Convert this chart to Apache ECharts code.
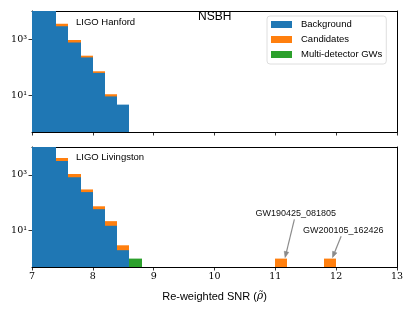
<!DOCTYPE html>
<html><head><meta charset="utf-8">
<script src="https://cdn.jsdelivr.net/npm/echarts@6/dist/echarts.min.js"></script>
<style>html,body{margin:0;padding:0;background:#fff}#c{width:415px;height:311px}</style>
</head><body><div id="c"></div>
<script>
// ---- data ----
const binWidth = 0.2;
const xTicks = [7, 8, 9, 10, 11, 12, 13];
const yTickValues = [10, 1000];

const hanfordBins = [7.0, 7.2, 7.4, 7.6, 7.8, 8.0, 8.2, 8.4];
const hanfordBackground = [30000, 14000, 2890, 757, 224, 63, 9.2, 4.7];
const hanfordCandidates = [31000, 14500, 3490, 923, 258, 72, 11, 0];

const livingstonBins = [7.0, 7.2, 7.4, 7.6, 7.8, 8.0, 8.2, 8.4];
const livingstonBackground = [40000, 16000, 3130, 822, 242, 59, 15, 2.0];
const livingstonCandBins = [7.0, 7.2, 7.4, 7.6, 7.8, 8.0, 8.2, 8.4, 11.0, 11.8];
const livingstonCandidates = [41000, 16500, 4010, 1085, 301, 75, 22, 3, 1, 1];
const multiBins = [8.6];
const multiDetector = [1];

const eventNames = ['GW190425_081805', 'GW200105_162426'];
const eventSnr = [11.16, 11.94];
const eventCount = [1, 1];

// ---- helpers ----
const BLUE = '#1f77b4', ORANGE = '#ff7f0e', GREEN = '#2ca02c';
const SANS = 'Liberation Sans';
const SERIF = 'DejaVu Serif';
const sup = {'0':'⁰','1':'¹','2':'²','3':'³','4':'⁴','5':'⁵','6':'⁶','7':'⁷','8':'⁸','9':'⁹','-':'⁻'};

function hist(starts, vals) {
  return starts.map((s, i) => [s, +(s + binWidth).toFixed(2), vals[i]]).filter(d => d[2] > 0);
}
function renderBar(params, api) {
  const x0 = api.value(0), x1 = api.value(1), v = api.value(2);
  const p0 = api.coord([x0, v]);
  const p1 = api.coord([x1, v]);
  const cs = params.coordSys;
  const bottom = cs.y + cs.height;
  const top = Math.max(p0[1], cs.y);
  const l = Math.round(p0[0]), r = Math.round(p1[0]);
  return {
    type: 'rect',
    shape: { x: l, y: top, width: r - l, height: bottom - top },
    style: { fill: api.visual('color'), stroke: null, lineWidth: 0 }
  };
}
function histSeries(name, color, gridIdx, data, z) {
  return {
    type: 'custom', name, xAxisIndex: gridIdx, yAxisIndex: gridIdx,
    data, encode: { x: [0, 1], y: 2 }, renderItem: renderBar,
    itemStyle: { color }, z, silent: true
  };
}

// annotation layout (label centre in data coords)
const annotLayout = [{ x: 11.335, y: 40 }, { x: 12.118, y: 10 }];
function renderAnnot(params, api) {
  const i = params.dataIndex;
  const tip0 = api.coord([api.value(0), api.value(1)]);
  const txt = api.coord([annotLayout[i].x, annotLayout[i].y]);
  const tip = [tip0[0], tip0[1] - 1];
  const dx = tip[0] - txt[0], dy = tip[1] - txt[1];
  const t = 5.5 / dy;
  const start = [txt[0] + dx * t, txt[1] + 5.5];
  const L = Math.hypot(tip[0] - start[0], tip[1] - start[1]);
  const ux = (tip[0] - start[0]) / L, uy = (tip[1] - start[1]) / L;
  const hl = 6, hw = 2.3;
  const base = [tip[0] - ux * hl, tip[1] - uy * hl];
  const px = -uy, py = ux;
  return {
    type: 'group',
    children: [
      { type: 'text', x: txt[0], y: txt[1],
        style: { text: eventNames[i], align: 'center', verticalAlign: 'middle',
                 fontSize: 9, fontFamily: SANS, fill: '#111' } },
      { type: 'line', shape: { x1: start[0], y1: start[1], x2: base[0], y2: base[1] },
        style: { stroke: '#8c8c8c', lineWidth: 1.2 } },
      { type: 'polygon', shape: { points: [tip, [base[0] + px * hw, base[1] + py * hw], [base[0] - px * hw, base[1] - py * hw]] },
        style: { fill: '#8c8c8c', stroke: '#7a7a7a', lineWidth: 0.5 } }
    ]
  };
}

const spine = { show: true, lineStyle: { color: '#000', width: 1 } };
function xBottom(gridIndex, showLabels) {
  return {
    type: 'value', gridIndex, min: 7, max: 13, interval: 1, position: 'bottom',
    axisLine: spine, splitLine: { show: false },
    axisTick: { show: true, length: 3.5, lineStyle: { color: '#000', width: 0.8 } },
    axisLabel: { show: showLabels, margin: 5, fontFamily: SERIF, fontSize: 9.5, color: '#000' },
    name: showLabels ? '{n|Re-weighted SNR (}{r|ρ̃}{n|)}' : '', nameLocation: 'middle', nameGap: 24,
    nameTextStyle: { fontFamily: SANS, fontSize: 11, color: '#000',
      rich: { n: { fontFamily: SANS, fontSize: 11, color: '#000' },
              r: { fontFamily: 'DejaVu Serif', fontStyle: 'italic', fontSize: 10.5, color: '#000' } } }
  };
}
function xTop(gridIndex) {
  return { type: 'value', gridIndex, min: 7, max: 13, position: 'top',
    axisLine: spine, axisTick: { show: false }, axisLabel: { show: false }, splitLine: { show: false } };
}
function yLeft(gridIndex) {
  return {
    type: 'log', logBase: 10, gridIndex, min: 0.5, max: 10000,
    axisLine: spine, splitLine: { show: false }, minorTick: { show: false },
    axisTick: { show: true, length: 3.5, customValues: yTickValues, lineStyle: { color: '#000', width: 0.8 } },
    axisLabel: { customValues: yTickValues, margin: 5, fontFamily: SERIF, fontSize: 9.5, color: '#000',
      formatter: v => '10' + String(Math.round(Math.log10(v))).split('').map(c => sup[c]).join('') }
  };
}
function yRight(gridIndex) {
  return { type: 'value', gridIndex, min: 0, max: 1, position: 'right',
    axisLine: spine, axisTick: { show: false }, axisLabel: { show: false }, splitLine: { show: false } };
}

const chart = echarts.init(document.getElementById('c'), null, { renderer: 'canvas' });
chart.setOption({
  animation: false,
  backgroundColor: '#fff',
  grid: [
    { left: 32, right: 18, top: 11, height: 121 },
    { left: 32, right: 18, top: 147, height: 120 }
  ],
  xAxis: [xBottom(0, false), xBottom(1, true), xTop(0), xTop(1)],
  yAxis: [yLeft(0), yLeft(1), yRight(0), yRight(1)],
  legend: {
    orient: 'vertical', left: 267, top: 16,
    data: ['Background', 'Candidates', 'Multi-detector GWs'],
    icon: 'rect', itemWidth: 21, itemHeight: 7, itemGap: 4,
    padding: [3, 4, 4, 4],
    backgroundColor: 'rgba(255,255,255,0.85)', borderColor: '#d6d6d6', borderWidth: 0.8, borderRadius: 3,
    textStyle: { fontFamily: SANS, fontSize: 9.5, color: '#000', lineHeight: 11, padding: [0, 0, 0, 4] }
  },
  graphic: [
    { type: 'text', left: 76, top: 17, style: { text: 'LIGO Hanford', fontFamily: SANS, fontSize: 9.5, fill: '#000' } },
    { type: 'text', left: 198, top: 11, style: { text: 'NSBH', fontFamily: SANS, fontSize: 12, fill: '#000' } },
    { type: 'text', left: 76, top: 152.5, style: { text: 'LIGO Livingston', fontFamily: SANS, fontSize: 9.5, fill: '#000' } }
  ],
  series: [
    histSeries('Candidates', ORANGE, 0, hist(hanfordBins, hanfordCandidates), 2),
    histSeries('Background', BLUE, 0, hist(hanfordBins, hanfordBackground), 3),
    histSeries('Candidates', ORANGE, 1, hist(livingstonCandBins, livingstonCandidates), 2),
    histSeries('Background', BLUE, 1, hist(livingstonBins, livingstonBackground), 3),
    histSeries('Multi-detector GWs', GREEN, 1, hist(multiBins, multiDetector), 3),
    {
      type: 'custom', name: 'annot', xAxisIndex: 1, yAxisIndex: 1, silent: true, z: 5,
      data: eventSnr.map((s, i) => [s, eventCount[i]]), encode: { x: 0, y: 1 },
      renderItem: renderAnnot
    }
  ]
});
</script>
</body></html>
